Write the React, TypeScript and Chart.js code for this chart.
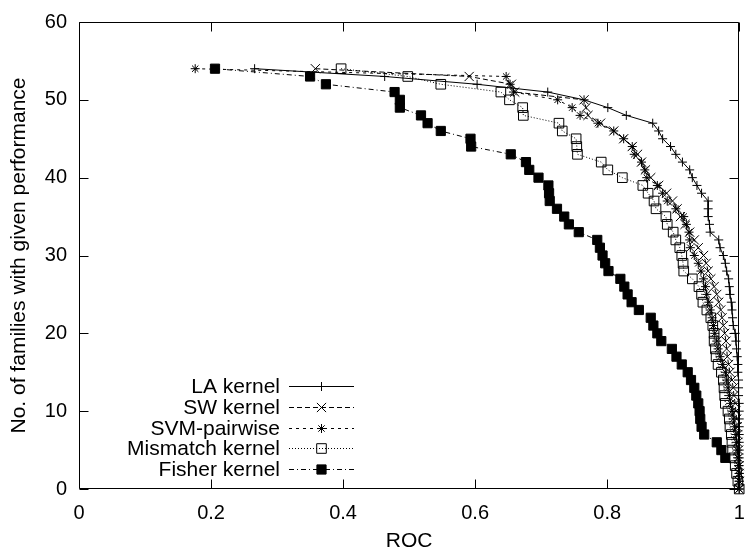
import React, { useEffect, useRef } from 'react';
import { Chart, registerables } from 'chart.js';
import { drawPoint } from 'chart.js/helpers';

Chart.register(...registerables);

// ---------- data (ROC score vs. number of families with ROC >= score) ----------
const SERIES_NAMES = ['LA kernel', 'SW kernel', 'SVM-pairwise', 'Mismatch kernel', 'Fisher kernel'];

const LA_ROC = [0.266, 0.463, 0.603, 0.710, 0.765, 0.801, 0.829, 0.869, 0.878, 0.884, 0.896, 0.904, 0.914, 0.925, 0.929, 0.936, 0.943, 0.953, 0.953, 0.953, 0.955, 0.956, 0.969, 0.971, 0.976, 0.979, 0.981, 0.984, 0.985, 0.986, 0.988, 0.989, 0.990, 0.991, 0.994, 0.995, 0.996, 0.997, 0.998, 0.998, 0.999, 0.999, 0.999, 1.0, 1.0, 1.0, 1.0, 1.0, 1.0, 1.0, 1.0, 1.0, 1.0, 1.0, 1.0];
const LA_COUNT = [54, 53, 52, 51, 50, 49, 48, 47, 46, 45, 44, 43, 42, 41, 40, 39, 38, 37, 36, 35, 34, 33, 32, 31, 30, 29, 28, 27, 26, 25, 24, 23, 22, 21, 20, 19, 18, 17, 16, 15, 14, 13, 12, 11, 10, 9, 8, 7, 6, 5, 4, 3, 2, 1, 0];

const SW_ROC = [0.358, 0.591, 0.655, 0.660, 0.765, 0.768, 0.771, 0.790, 0.810, 0.825, 0.838, 0.846, 0.852, 0.858, 0.866, 0.878, 0.890, 0.899, 0.906, 0.911, 0.918, 0.925, 0.932, 0.938, 0.946, 0.950, 0.953, 0.957, 0.962, 0.966, 0.969, 0.972, 0.974, 0.976, 0.978, 0.980, 0.981, 0.982, 0.984, 0.986, 0.989, 0.991, 0.992, 0.994, 0.995, 0.996, 0.997, 0.998, 0.998, 0.999, 0.999, 1.0, 1.0, 1.0, 1.0];
const SW_COUNT = [54, 53, 52, 51, 50, 49, 48, 47, 46, 45, 44, 43, 42, 41, 40, 39, 38, 37, 36, 35, 34, 33, 32, 31, 30, 29, 28, 27, 26, 25, 24, 23, 22, 21, 20, 19, 18, 17, 16, 15, 14, 13, 12, 11, 10, 9, 8, 7, 6, 5, 4, 3, 2, 1, 0];

const SVM_ROC = [0.176, 0.647, 0.653, 0.658, 0.725, 0.747, 0.759, 0.786, 0.810, 0.825, 0.838, 0.841, 0.852, 0.857, 0.860, 0.876, 0.884, 0.891, 0.904, 0.916, 0.920, 0.924, 0.925, 0.926, 0.932, 0.938, 0.942, 0.946, 0.949, 0.951, 0.954, 0.956, 0.959, 0.961, 0.963, 0.966, 0.968, 0.971, 0.975, 0.979, 0.981, 0.983, 0.985, 0.987, 0.989, 0.991, 0.993, 0.995, 0.996, 0.997, 0.998, 0.999, 1.0, 1.0, 1.0];
const SVM_COUNT = [54, 53, 52, 51, 50, 49, 48, 47, 46, 45, 44, 43, 42, 41, 40, 39, 38, 37, 36, 35, 34, 33, 32, 31, 30, 29, 28, 27, 26, 25, 24, 23, 22, 21, 20, 19, 18, 17, 16, 15, 14, 13, 12, 11, 10, 9, 8, 7, 6, 5, 4, 3, 2, 1, 0];

const MISMATCH_ROC = [0.397, 0.498, 0.548, 0.639, 0.652, 0.672, 0.673, 0.727, 0.732, 0.753, 0.754, 0.755, 0.791, 0.801, 0.823, 0.854, 0.862, 0.871, 0.874, 0.889, 0.891, 0.900, 0.904, 0.910, 0.913, 0.915, 0.916, 0.929, 0.939, 0.943, 0.945, 0.951, 0.957, 0.960, 0.962, 0.962, 0.964, 0.965, 0.968, 0.973, 0.976, 0.977, 0.978, 0.979, 0.983, 0.985, 0.986, 0.988, 0.989, 0.990, 0.992, 0.994, 0.996, 0.998, 1.0];
const MISMATCH_COUNT = [54, 53, 52, 51, 50, 49, 48, 47, 46, 45, 44, 43, 42, 41, 40, 39, 38, 37, 36, 35, 34, 33, 32, 31, 30, 29, 28, 27, 26, 25, 24, 23, 22, 21, 20, 19, 18, 17, 16, 15, 14, 13, 12, 11, 10, 9, 8, 7, 6, 5, 4, 3, 2, 1, 0];

const FISHER_ROC = [0.206, 0.350, 0.374, 0.478, 0.486, 0.486, 0.518, 0.528, 0.548, 0.593, 0.594, 0.654, 0.677, 0.682, 0.696, 0.711, 0.712, 0.713, 0.724, 0.735, 0.742, 0.757, 0.785, 0.789, 0.793, 0.797, 0.802, 0.820, 0.826, 0.831, 0.837, 0.848, 0.866, 0.870, 0.876, 0.882, 0.898, 0.905, 0.913, 0.922, 0.927, 0.932, 0.935, 0.938, 0.940, 0.941, 0.943, 0.947, 0.966, 0.973, 0.979];
const FISHER_COUNT = [54, 53, 52, 51, 50, 49, 48, 47, 46, 45, 44, 43, 42, 41, 40, 39, 38, 37, 36, 35, 34, 33, 32, 31, 30, 29, 28, 27, 26, 25, 24, 23, 22, 21, 20, 19, 18, 17, 16, 15, 14, 13, 12, 11, 10, 9, 8, 7, 6, 5, 4];

const X_MIN = 0, X_MAX = 1, X_STEP = 0.2;
const Y_MIN = 0, Y_MAX = 60, Y_STEP = 10;
const X_TITLE = 'ROC';
const Y_TITLE = 'No. of families with given performance';

// ---------- styling ----------
const FONT = 'Liberation Sans, Arial, Helvetica, sans-serif';
const FONT_SIZE = 20;
const TEXT_SIZE = 21;

const toPoints = (xs: number[], ys: number[]) => xs.map((x, i) => ({ x, y: ys[i] }));

const framePlugin = {
  id: 'gnuFrame',
  beforeDatasetsDraw(chart: any) {
    const { ctx, chartArea: a, scales } = chart;
    const L = Math.round(a.left) + 0.5;
    const R = Math.round(a.right) - 0.5;
    const T = Math.round(a.top) + 0.5;
    const B = Math.round(a.bottom) - 0.5;
    const len = 9;
    ctx.save();
    ctx.strokeStyle = '#000';
    ctx.lineWidth = 1;
    ctx.setLineDash([]);
    ctx.beginPath();
    ctx.rect(L, T, R - L, B - T);
    scales.x.ticks.forEach((t: any) => {
      const px = Math.round(scales.x.getPixelForValue(t.value)) + 0.5;
      ctx.moveTo(px, B); ctx.lineTo(px, B - len);
      ctx.moveTo(px, T); ctx.lineTo(px, T + len);
    });
    scales.y.ticks.forEach((t: any) => {
      const py = Math.round(scales.y.getPixelForValue(t.value)) + 0.5;
      ctx.moveTo(L, py); ctx.lineTo(L + len, py);
      ctx.moveTo(R, py); ctx.lineTo(R - len, py);
    });
    ctx.stroke();
    ctx.restore();
  },
};

const legendPlugin = {
  id: 'gnuLegend',
  afterDraw(chart: any, _args: any, opts: any) {
    const { ctx } = chart;
    const { textRight, lineLeft, lineRight, top, step } = opts;
    ctx.save();
    ctx.font = `${TEXT_SIZE}px ${FONT}`;
    ctx.fillStyle = '#000';
    ctx.textAlign = 'right';
    ctx.textBaseline = 'middle';
    chart.data.datasets.forEach((ds: any, i: number) => {
      const y = Math.round(top + i * step) + 0.5;
      ctx.fillStyle = '#000';
      ctx.fillText(ds.label, textRight, y + 1);
      ctx.strokeStyle = '#000';
      ctx.lineWidth = 1;
      ctx.setLineDash(ds.borderDash || []);
      ctx.beginPath();
      ctx.moveTo(lineLeft, y);
      ctx.lineTo(lineRight, y);
      ctx.stroke();
      ctx.setLineDash([]);
      ctx.fillStyle = ds.pointBackgroundColor;
      ctx.strokeStyle = '#000';
      ctx.lineWidth = 1;
      drawPoint(ctx, { pointStyle: ds.pointStyle, radius: ds.pointRadius, borderWidth: 1, rotation: 0 } as any,
        (lineLeft + lineRight) / 2, y);
    });
    ctx.restore();
  },
};

export default function App() {
  const ref = useRef<HTMLCanvasElement | null>(null);

  useEffect(() => {
    document.body.style.margin = '0';
    const canvas = ref.current;
    if (!canvas) return;
    Chart.defaults.font.family = FONT;
    Chart.defaults.font.size = FONT_SIZE;
    Chart.defaults.color = '#000';

    const common = {
      showLine: true,
      borderColor: '#000',
      borderWidth: 1,
      pointBorderColor: '#000',
      pointBorderWidth: 1,
      tension: 0,
      clip: false as any,
    };

    const chart = new Chart(canvas, {
      type: 'scatter',
      data: {
        datasets: [
          { ...common, label: SERIES_NAMES[0], data: toPoints(LA_ROC, LA_COUNT), pointStyle: 'cross', pointRadius: 4.5, pointBackgroundColor: 'rgba(0,0,0,0)', borderDash: [] },
          { ...common, label: SERIES_NAMES[1], data: toPoints(SW_ROC, SW_COUNT), pointStyle: 'crossRot', pointRadius: 6.5, pointBackgroundColor: 'rgba(0,0,0,0)', borderDash: [5, 3] },
          { ...common, label: SERIES_NAMES[2], data: toPoints(SVM_ROC, SVM_COUNT), pointStyle: 'star', pointRadius: 4.5, pointBackgroundColor: 'rgba(0,0,0,0)', borderDash: [3, 4] },
          { ...common, label: SERIES_NAMES[3], data: toPoints(MISMATCH_ROC, MISMATCH_COUNT), pointStyle: 'rect', pointRadius: 6.8, pointBackgroundColor: 'rgba(0,0,0,0)', borderDash: [1, 2] },
          { ...common, label: SERIES_NAMES[4], data: toPoints(FISHER_ROC, FISHER_COUNT), pointStyle: 'rect', pointRadius: 6.5, pointBackgroundColor: '#000', borderDash: [5, 3, 1, 3] },
        ] as any,
      },
      options: {
        animation: false,
        responsive: false,
        devicePixelRatio: 1,
        events: [],
        layout: { padding: { top: 22, right: 2, left: 0, bottom: 0 } },
        plugins: {
          legend: { display: false },
          tooltip: { enabled: false },
          gnuLegend: { textRight: 280, lineLeft: 289, lineRight: 354, top: 386, step: 20.8 },
        } as any,
        scales: {
          x: {
            type: 'linear',
            min: X_MIN,
            max: X_MAX,
            grid: { display: false, drawTicks: false },
            border: { display: false },
            ticks: { stepSize: X_STEP, padding: 12, color: '#000', font: { size: FONT_SIZE, family: FONT },
              callback: (v: any) => String(Math.round(Number(v) * 10) / 10) },
            title: { display: true, text: X_TITLE, color: '#000', font: { size: TEXT_SIZE, family: FONT, lineHeight: 1 }, padding: { top: 0, bottom: -2 } },
            afterFit: (s: any) => { s.height = 61; s.paddingLeft = 0; s.paddingRight = 0; },
          },
          y: {
            type: 'linear',
            min: Y_MIN,
            max: Y_MAX,
            grid: { display: false, drawTicks: false },
            border: { display: false },
            ticks: { stepSize: Y_STEP, padding: 12, color: '#000', font: { size: FONT_SIZE, family: FONT } },
            title: { display: true, text: Y_TITLE, color: '#000', font: { size: TEXT_SIZE, family: FONT, lineHeight: 1 }, padding: { top: 9, bottom: 0 } },
            afterFit: (s: any) => { s.width = 79; s.paddingTop = 0; s.paddingBottom = 0; },
          },
        } as any,
      },
      plugins: [framePlugin, legendPlugin],
    });
    return () => chart.destroy();
  }, []);

  return (
    <div style={{ width: 747, height: 550, background: '#fff' }}>
      <canvas ref={ref} width={747} height={550} style={{ display: 'block', width: 747, height: 550 }} />
    </div>
  );
}
